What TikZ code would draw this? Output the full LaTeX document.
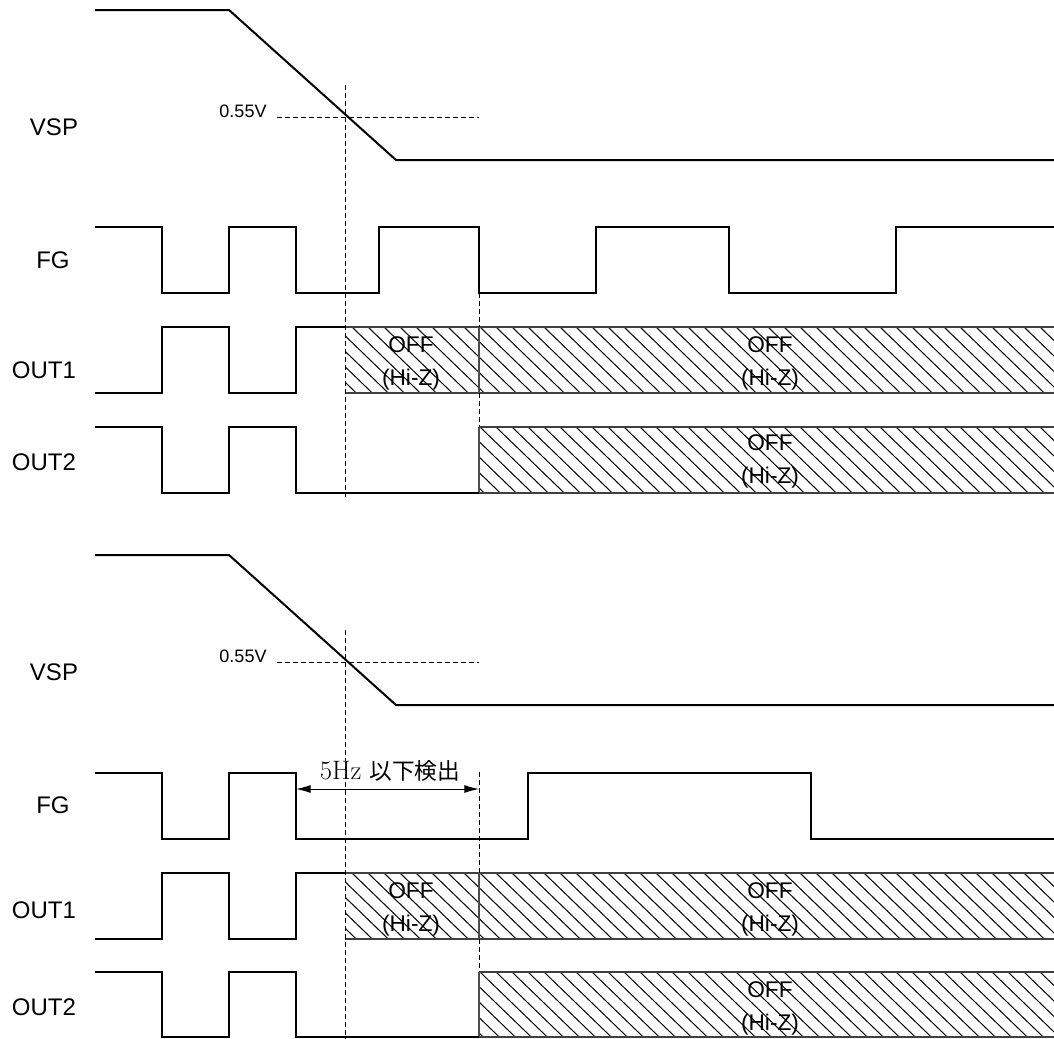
\documentclass[tikz,border=0pt]{standalone}
\usepackage{fontspec}
\usetikzlibrary{arrows.meta}
\newfontfamily\arialf{Liberation Sans}
\newfontfamily\jpf{Noto Sans CJK JP}
\newcommand\hatchrect[4]{%
  \begin{scope}
    \clip (#1,#2) rectangle (#3,#4);
    \foreach \k in {-160,-144,...,1070} \draw[hatchline] (\k,#2) -- ++(150,145);
  \end{scope}}
\begin{document}
\begin{tikzpicture}[x=0.75pt,y=-0.75pt,
  wave/.style={line width=1.5pt, line join=miter},
  dline/.style={line width=0.75pt, dash pattern=on 3.75pt off 2.25pt},
  hatchline/.style={line width=0.75pt},
  boxline/.style={line width=1.2pt, draw=black!75},
  boxedge/.style={line width=0.8pt, draw=black!70},
  lab/.style={font=\arialf\fontsize{18}{20}\selectfont, anchor=base, inner sep=0pt},
  volt/.style={font=\arialf\fontsize{13.5}{15}\selectfont, anchor=base, inner sep=0pt},
  offt/.style={font=\arialf\fontsize{17}{19}\selectfont, anchor=base, inner sep=0pt},
  dimtxt/.style={font=\fontsize{20}{22}\selectfont, anchor=base, inner sep=0pt},
  dimarrow/.style={line width=0.75pt, {Latex[length=11pt,width=6pt]}-{Latex[length=11pt,width=6pt]}}
]
\useasboundingbox (0,0) rectangle (1054,1039);

% ---------- hatched regions ----------
\hatchrect{345}{327}{1054}{393}
\hatchrect{479}{427}{1054}{493}
\hatchrect{345}{873}{1054}{939}
\hatchrect{479}{972}{1054}{1037}

% box outlines
\draw[boxline] (345,327) -- (1054,327) (345,393) -- (1054,393);
\draw[boxedge] (479,327) -- (479,393);
\draw[boxline] (479,427) -- (1054,427) (479,493) -- (1054,493);
\draw[boxedge] (479,427) -- (479,493);
\draw[boxline] (345,873) -- (1054,873) (345,939) -- (1054,939);
\draw[boxedge] (479,873) -- (479,939);
\draw[boxline] (479,972) -- (1054,972) (479,1037) -- (1054,1037);
\draw[boxedge] (479,972) -- (479,1037);

% ---------- top diagram ----------
\draw[wave] (95,10) -- (229,10) -- (396,160) -- (1054,160);
\draw[wave] (95,227) -- (162,227) -- (162,293) -- (229,293) -- (229,227) -- (296,227) -- (296,293)
  -- (379,293) -- (379,227) -- (479,227) -- (479,293) -- (596,293) -- (596,227) -- (729,227)
  -- (729,293) -- (896,293) -- (896,227) -- (1054,227);
\draw[wave] (95,393) -- (162,393) -- (162,327) -- (229,327) -- (229,393) -- (296,393) -- (296,327) -- (345,327);
\draw[wave] (95,427) -- (162,427) -- (162,493) -- (229,493) -- (229,427) -- (296,427) -- (296,493) -- (479,493);

\draw[dline] (345,85) -- (345,497);
\draw[dline] (479,293) -- (479,327) (479,393) -- (479,427);
\draw[dline] (277,117) -- (479,117);

% ---------- bottom diagram ----------
\draw[wave] (95,555) -- (229,555) -- (396,705) -- (1054,705);
\draw[wave] (95,773) -- (162,773) -- (162,839) -- (229,839) -- (229,773) -- (296,773) -- (296,839)
  -- (528,839) -- (528,773) -- (811,773) -- (811,839) -- (1054,839);
\draw[wave] (95,939) -- (162,939) -- (162,873) -- (229,873) -- (229,939) -- (296,939) -- (296,873) -- (345,873);
\draw[wave] (95,972) -- (162,972) -- (162,1037) -- (229,1037) -- (229,972) -- (296,972) -- (296,1037) -- (479,1037);

\draw[dline] (345,630) -- (345,1039);
\draw[dline] (479,772) -- (479,873) (479,939) -- (479,972);
\draw[dline] (277,662) -- (479,662);

\coordinate (a1) at (296,789);
\coordinate (a2) at (479,789);
\draw[dimarrow] (a1) -- (a2);
\node[dimtxt] (det) at (390,779) {5Hz {\jpf\fontsize{17}{20}\selectfont 以下検出}};

% ---------- labels ----------
\node[lab] (vsp1) at (54,135) {VSP};
\node[lab] (fg1) at (53,268) {FG};
\node[lab] (o11) at (44,378) {OUT1};
\node[lab] (o21) at (44,470) {OUT2};
\node[lab] (vsp2) at (54,680) {VSP};
\node[lab] (fg2) at (53,813) {FG};
\node[lab] (o12) at (44,918) {OUT1};
\node[lab] (o22) at (44,1015) {OUT2};

\node[volt] (v1) at (243,117) {0.55V};
\node[volt] (v2) at (243,662) {0.55V};

\node[offt] (offa) at (411,352) {OFF};
\node[offt] (hiza) at (411,385) {(Hi-Z)};
\node[offt] (offb) at (770,352) {OFF};
\node[offt] (hizb) at (770,385) {(Hi-Z)};
\node[offt] (offc) at (770,450) {OFF};
\node[offt] (hizc) at (770,483) {(Hi-Z)};
\node[offt] (offd) at (411,898) {OFF};
\node[offt] (hizd) at (411,931) {(Hi-Z)};
\node[offt] (offe) at (770,898) {OFF};
\node[offt] (hize) at (770,931) {(Hi-Z)};
\node[offt] (offf) at (770,997) {OFF};
\node[offt] (hizf) at (770,1030) {(Hi-Z)};
\end{tikzpicture}
\end{document}
